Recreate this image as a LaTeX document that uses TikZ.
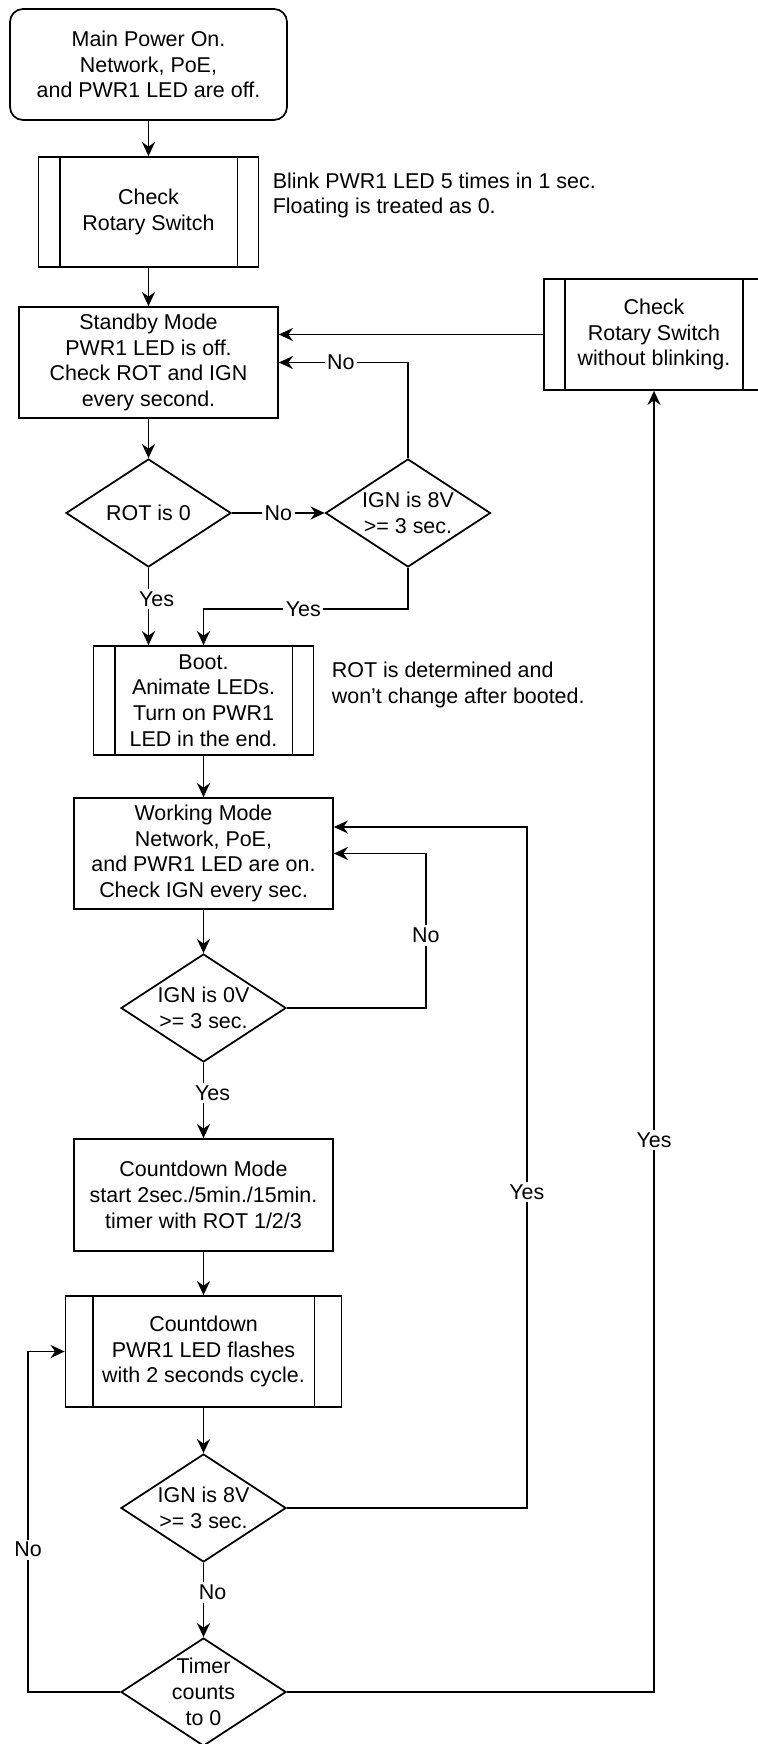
\documentclass[tikz,border=0pt]{standalone}
\usepackage{fontspec}
\setmainfont{Liberation Sans}
\usepackage{tikz}
\usetikzlibrary{arrows.meta,shapes.geometric,positioning,calc}

\begin{document}
\begin{tikzpicture}[
		font=\fontsize{12.2pt}{14.7pt}\selectfont,
		line width=1pt,
		box/.style={draw, rectangle, align=center, minimum width=5.18cm, minimum height=2.22cm, inner sep=0pt},
		proc/.style={draw, rectangle, align=center, minimum width=4.4cm, minimum height=2.2cm, inner sep=0pt},
		dia/.style={draw, diamond, minimum width=3.3cm, minimum height=2.16cm, inner sep=0pt},
		note/.style={anchor=west, align=left, inner sep=0pt},
		lbl/.style={fill=white, inner sep=1.5pt},
		arr/.style={-{Stealth[length=0.28cm, width=0.26cm, inset=0.09cm]}}
	]
		\useasboundingbox (0,0) rectangle (15.16,-34.88);

		\node[box, rounded corners=0.26cm, minimum width=5.54cm] (start) at (2.97,-1.29) {Main Power On.\\Network, PoE,\\and PWR1 LED are off.};
		\node[proc] (chk1) at (2.97,-4.24) {Check\\Rotary Switch};
		\node[note] (note1) at (5.44,-3.91) {Blink PWR1 LED 5 times in 1 sec.\\Floating is treated as 0.};
		\node[box] (stdby) at (2.97,-7.25) {Standby Mode\\PWR1 LED is off.\\Check ROT and IGN\\every second.};
		\node[proc, minimum height=2.22cm] (chk2) at (13.08,-6.69) {Check\\Rotary Switch\\without blinking.};

		\node[dia, label={[align=center]center:ROT is 0}] (rot) at (2.97,-10.26) {};
		\node[dia, label={[align=center]center:IGN is 8V\\>= 3 sec.}] (ign1) at (8.16,-10.26) {};

		\node[proc, minimum height=2.18cm] (boot) at (4.07,-14.01) {Boot.\\Animate LEDs.\\Turn on PWR1\\LED in the end.};
		\node[note] (note2) at (6.62,-13.7) {ROT is determined and\\won't change after booted.};

		\node[box] (work) at (4.07,-17.07) {Working Mode\\Network, PoE,\\and PWR1 LED are on.\\Check IGN every sec.};
		\node[dia, label={[align=center]center:IGN is 0V\\>= 3 sec.}] (ign0) at (4.07,-20.16) {};
		\node[box, minimum height=2.24cm] (cdmode) at (4.07,-23.9) {Countdown Mode\\start 2sec./5min./15min.\\timer with ROT 1/2/3};
		\node[proc, minimum width=5.52cm, minimum height=2.22cm] (cdsub) at (4.07,-27.03) {Countdown\\PWR1 LED flashes\\with 2 seconds cycle.};
		\node[dia, label={[align=center]center:IGN is 8V\\>= 3 sec.}] (ign8) at (4.07,-30.16) {};
		\node[dia, label={[align=center]center:Timer\\counts\\to 0}] (timer) at (4.07,-33.84) {};

		% side bars of the sub-process boxes
		\foreach \n/\d in {chk1/0.44, chk2/0.44, boot/0.44, cdsub/0.56} {
			\draw ([xshift=\d cm]\n.north west) -- ([xshift=\d cm]\n.south west);
			\draw ([xshift=-\d cm]\n.north east) -- ([xshift=-\d cm]\n.south east);
		}

		\draw[arr] (start) -- (chk1);
		\draw[arr] (chk1) -- (stdby);
		\draw[arr] (stdby) -- (rot);
		\draw[arr] (rot) -- node[lbl] {No} (ign1);
		\draw[arr] (ign1.north) |- node[lbl, pos=0.76] {No} (stdby.east);
		\draw[arr] (chk2.west) -- (chk2.west -| stdby.east);
		\draw[arr] (rot.south) -- node[lbl, pos=0.4, xshift=0.16cm] {Yes} (rot.south |- boot.north);
		\draw[arr] (ign1.south) -- ++(0,-0.82) -| node[lbl, pos=0.256] {Yes} (boot.north);
		\draw[arr] (boot) -- (work);
		\draw[arr] (work) -- (ign0);
		\draw[arr] (ign0.east) -- ++(2.78,0) |- node[lbl, pos=0.235] {No} (work.east);
		\draw[arr] (ign0) -- node[lbl, pos=0.4, xshift=0.18cm] {Yes} (cdmode);
		\draw[arr] (cdmode) -- (cdsub);
		\draw[arr] (cdsub) -- (ign8);
		\draw[arr] (ign8.east) -- ++(4.8,0) |- node[lbl, pos=0.232] {Yes} ([yshift=0.53cm]work.east);
		\draw[arr] (ign8) -- node[lbl, pos=0.4, xshift=0.18cm] {No} (timer);
		\draw[arr] (timer.west) -- ++(-1.84,0) |- node[lbl, pos=0.209] {No} (cdsub.west);
		\draw[arr] (timer.east) -| node[lbl, pos=0.712] {Yes} (chk2.south);
	\end{tikzpicture}
\end{document}
